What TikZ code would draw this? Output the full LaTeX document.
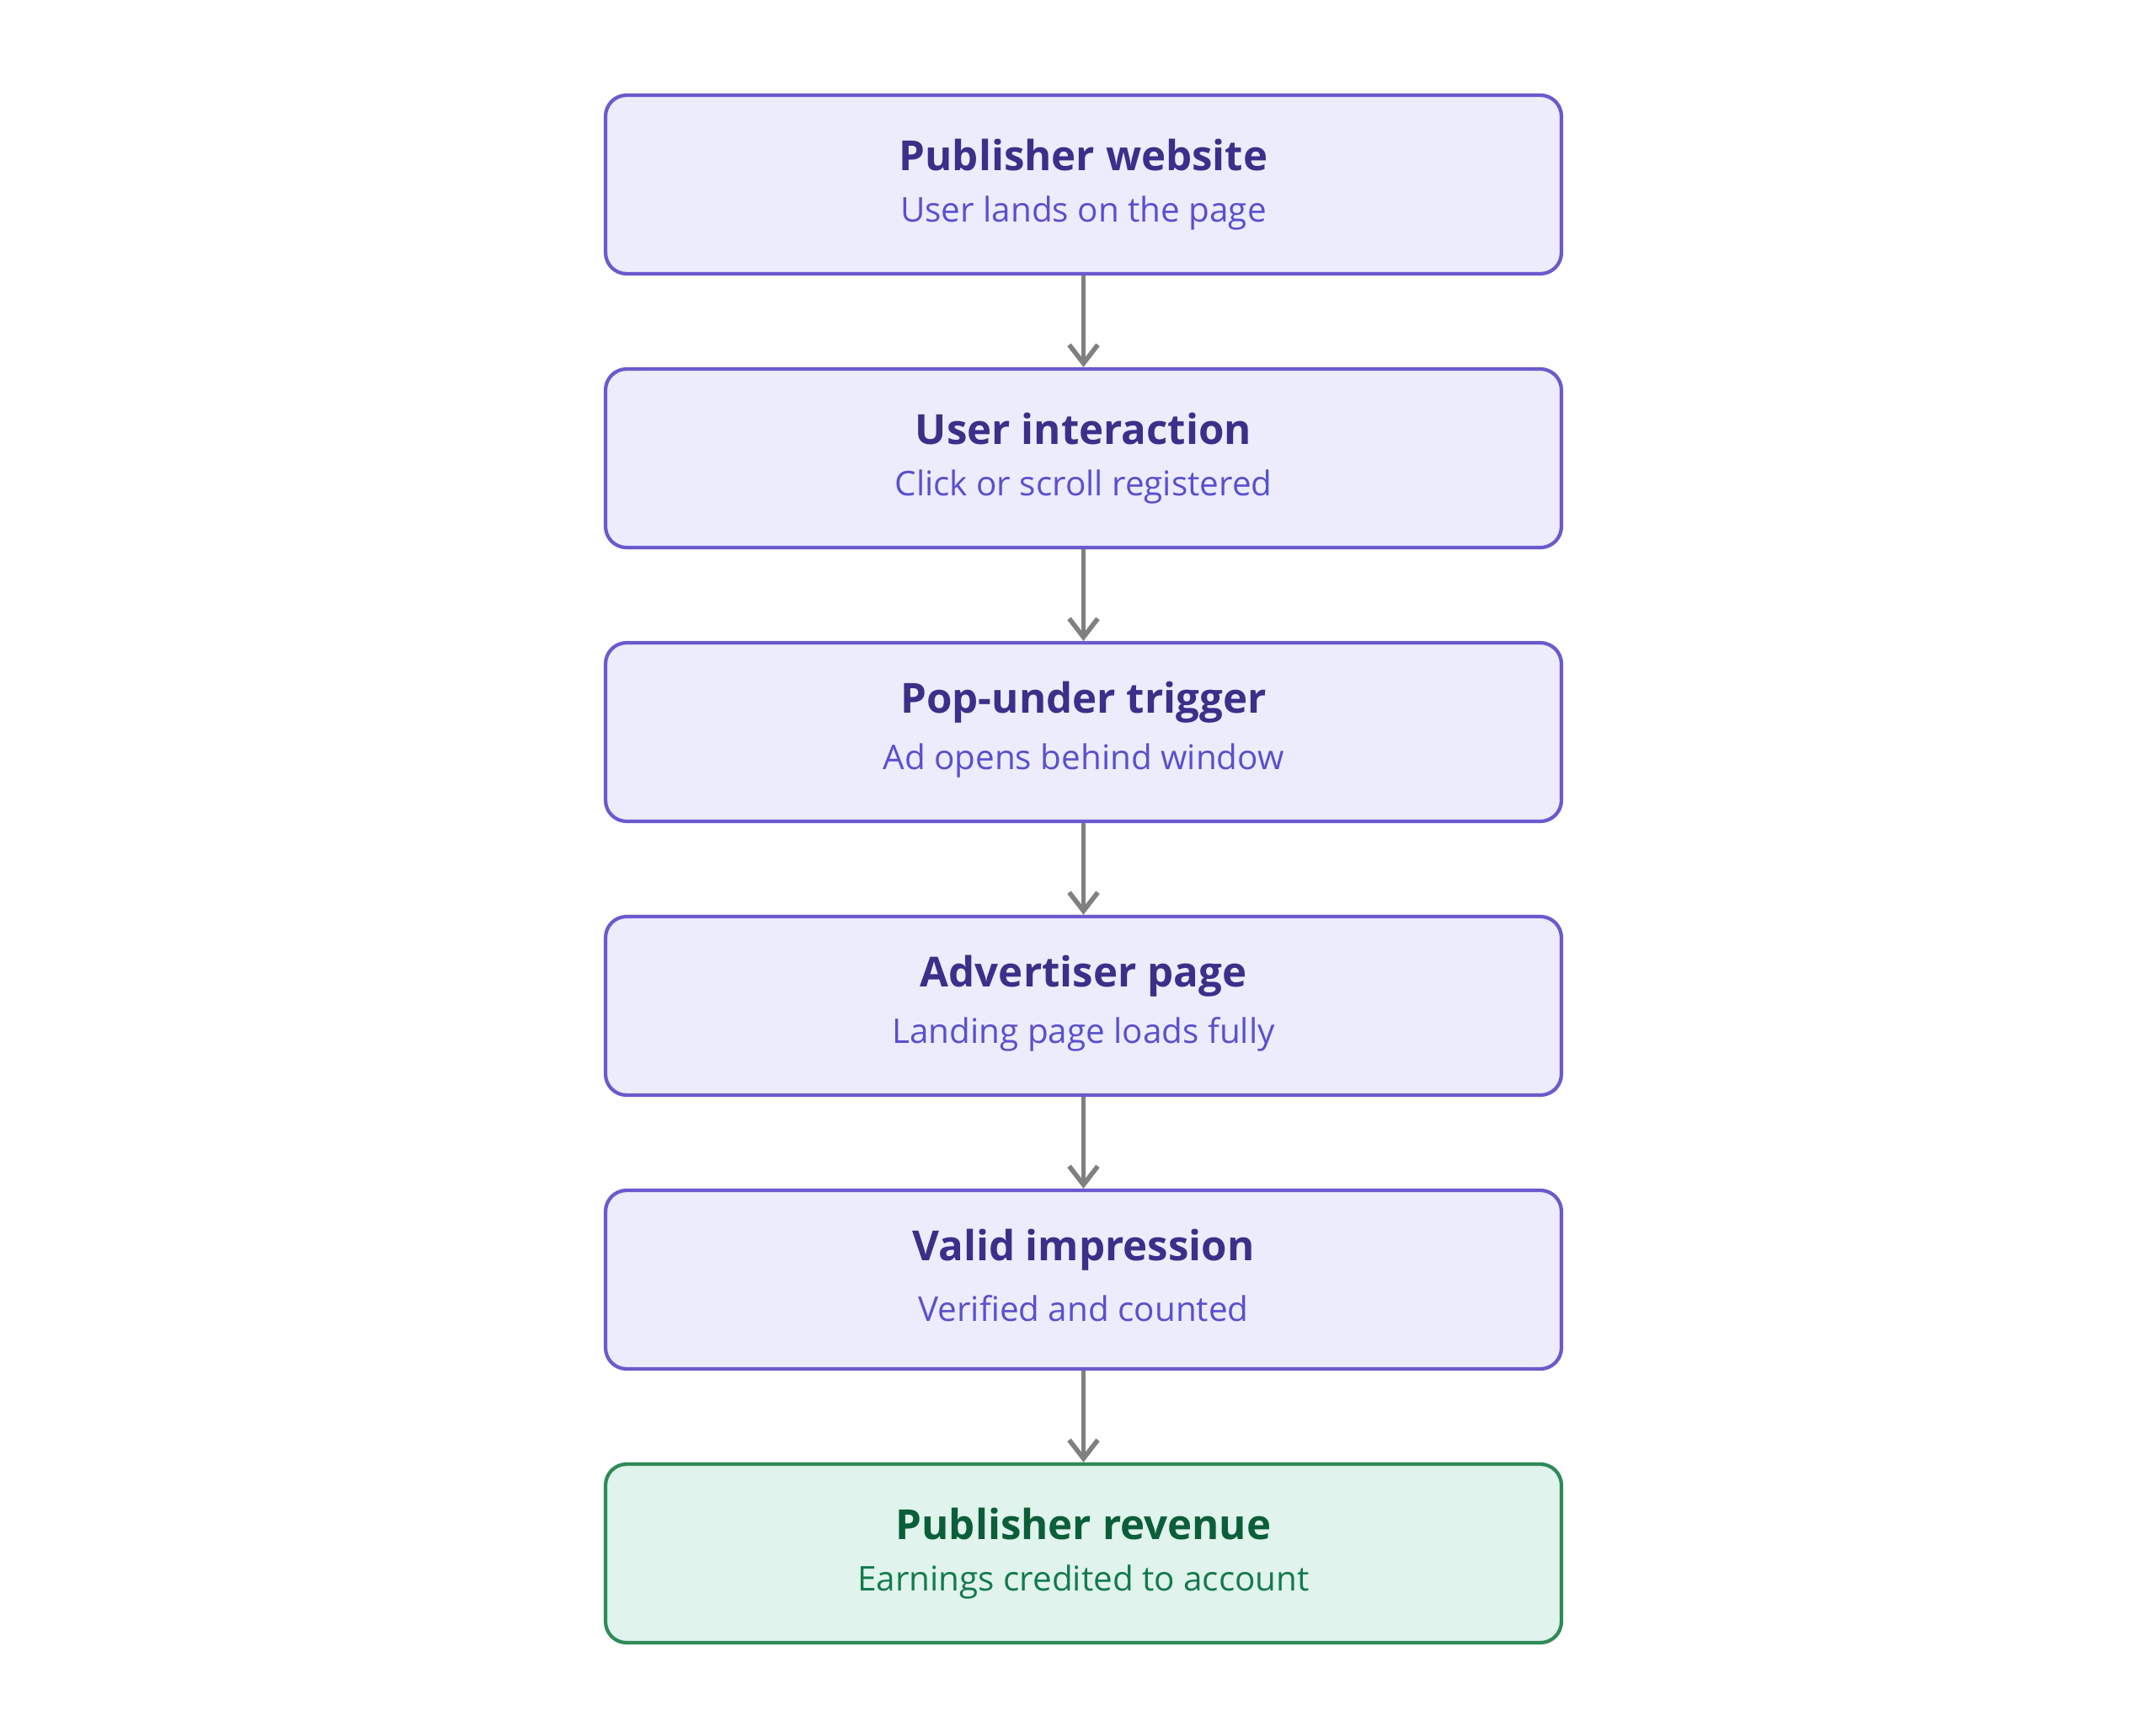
\documentclass[tikz,border=0pt]{standalone}
\usepackage{fontspec}
\setmainfont{Open Sans}
\usetikzlibrary{arrows.meta}
\definecolor{pfill}{HTML}{ECECFC}
\definecolor{pdraw}{HTML}{6A5ACD}
\definecolor{ptitle}{HTML}{3B2F8A}
\definecolor{psub}{HTML}{5A4FCF}
\definecolor{gfill}{HTML}{E0F3EC}
\definecolor{gdraw}{HTML}{2E8B57}
\definecolor{gtitle}{HTML}{0B5E3A}
\definecolor{gsub}{HTML}{137A4E}
\tikzset{
 box/.style={draw=pdraw,fill=pfill,line width=1.2pt,rounded corners=0.25cm,minimum width=11.35cm,minimum height=2.12cm},
 gbox/.style={box,draw=gdraw,fill=gfill},
 ttl/.style={font=\fontsize{14}{16}\selectfont\bfseries,text=ptitle},
 sub/.style={font=\fontsize{11.5}{14}\selectfont,text=psub},
 arr/.style={draw=gray,line width=1.6pt,-{Straight Barb[length=0.22cm,width=0.34cm]}}
}
\begin{document}
\begin{tikzpicture}
\useasboundingbox (0,0) rectangle (25.6,-20.56);
\def\cx{12.865}
\foreach \i/\t/\s/\st in {0/Publisher website/User lands on the page/box,1/User interaction/Click or scroll registered/box,2/Pop-under trigger/Ad opens behind window/box,3/Advertiser page/Landing page loads fully/box,4/Valid impression/Verified and counted/box}{
 \node[\st] (b\i) at (\cx,{-2.19-3.25*\i}) {};
 \node[ttl] (t\i) at ([yshift=0.35cm]b\i.center) {\t};
 \node[sub] (s\i) at ([yshift=-0.34cm]b\i.center) {\s};
}
\node[gbox] (b5) at (\cx,{-2.19-3.25*5}) {};
\node[ttl,text=gtitle] (t5) at ([yshift=0.35cm]b5.center) {Publisher revenue};
\node[sub,text=gsub] (s5) at ([yshift=-0.34cm]b5.center) {Earnings credited to account};
\foreach \a/\b in {0/1,1/2,2/3,3/4,4/5}{\draw[arr] (b\a.south) -- (b\b.north);}
\end{tikzpicture}
\end{document}
